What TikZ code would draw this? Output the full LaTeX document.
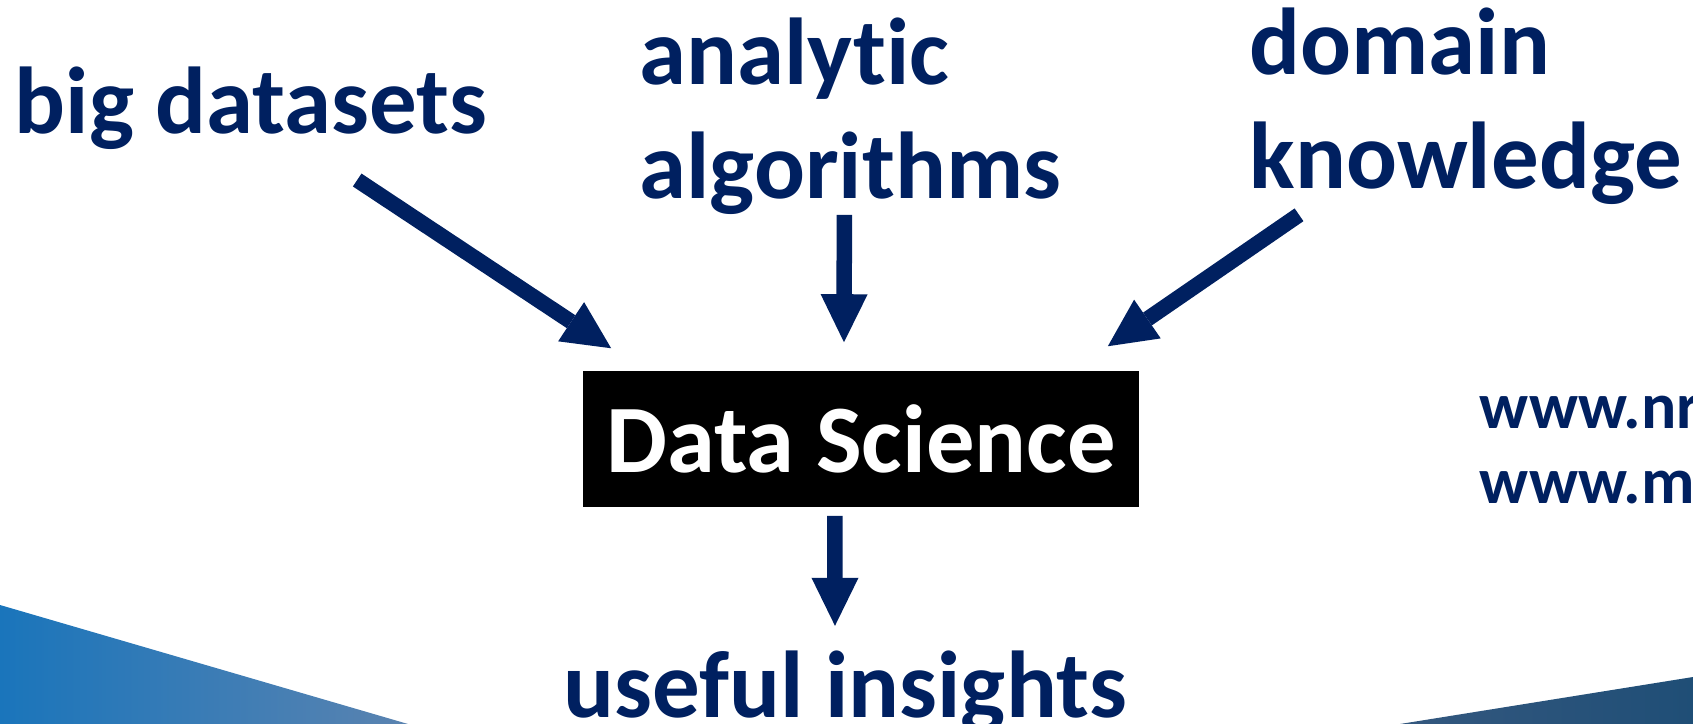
\documentclass[tikz,border=0pt]{standalone}
\usepackage{fontspec}
\setmainfont{Carlito}[Ligatures=NoCommon]
\usetikzlibrary{positioning,arrows.meta}
\definecolor{navy}{HTML}{002060}
\definecolor{waveleftA}{HTML}{1A75BB}
\definecolor{waveleftB}{HTML}{5A83B0}
\definecolor{waverightA}{HTML}{34587F}
\definecolor{waverightB}{HTML}{1F4E76}
\tikzset{
  every label node/.style={
    inner sep=0pt, text=navy, align=left,
    font=\fontsize{27}{32.4}\selectfont\bfseries,
  },
  flow/.style=      {draw=navy, line width=1.55mm,
    -{Triangle[length=4.8mm,width=4.7mm,line width=0pt]}},
}

\begin{document}
\begin{tikzpicture}[x=0.01cm,y=-0.01cm]
                    \useasboundingbox (0,0) rectangle (1693,724);
                    \clip (0,0) rectangle (1693,724);
                    \shade[left color=waveleftA, right color=waveleftB]
                        (0,605) -- (408,724) -- (0,724) -- cycle;
                    \shade[left color=waverightA, right color=waverightB]
                        (1400,724) -- (1693,677) -- (1693,724) -- cycle;

                    \tikzstyle{item}=[every label node]
                    \tikzstyle{core}=[rectangle, fill=black, inner sep=0pt,
                        text=white, minimum width=5.56cm, minimum height=1.36cm,
                        font=\fontsize{27.5}{33}\selectfont\bfseries]
                    \node (Science) [core] at (861,439)
                        {
                            Data Science
                        };

                        \node (Datasets) [item, anchor=base west] at (14,133)
                        {
                            big datasets
                        };
                        \node (Algorithms) [item, anchor=base west] at (639,198)
                        {
                            analytic\\algorithms
                        };
                        \node (Domain) [item, anchor=base west] at (1249,188)
                        {
                            domain\\knowledge
                        };
                        \node (Insights) [item, anchor=north,
                        below= 1.42cm of Science, xshift=-0.05cm]
                        {
                            useful insights
                        };
                        \node (Urls) [item, anchor=base west,
                        font=\fontsize{18.7}{21.3}\selectfont\bfseries]
                        at (1479,503)
                        {
                            www.nr\\www.m
                        };

                        \draw[flow] ([xshift=3.43cm,yshift=-0.47cm]Datasets.base west)
                            -- ([xshift=0.29cm,yshift=0.22cm]Science.north west);
                        \draw[flow] ([xshift=-0.06cm]Algorithms.south)
                            -- ([xshift=-0.17cm,yshift=0.28cm]Science.north);
                        \draw[flow] ([xshift=0.5cm,yshift=-0.1cm]Domain.south west)
                            -- ([xshift=-0.32cm,yshift=0.24cm]Science.north east);
                        \draw[flow] ([xshift=-0.26cm,yshift=-0.08cm]Science.south)
                            -- ([xshift=-0.21cm,yshift=0.24cm]Insights.north);
                \end{tikzpicture}
\end{document}
